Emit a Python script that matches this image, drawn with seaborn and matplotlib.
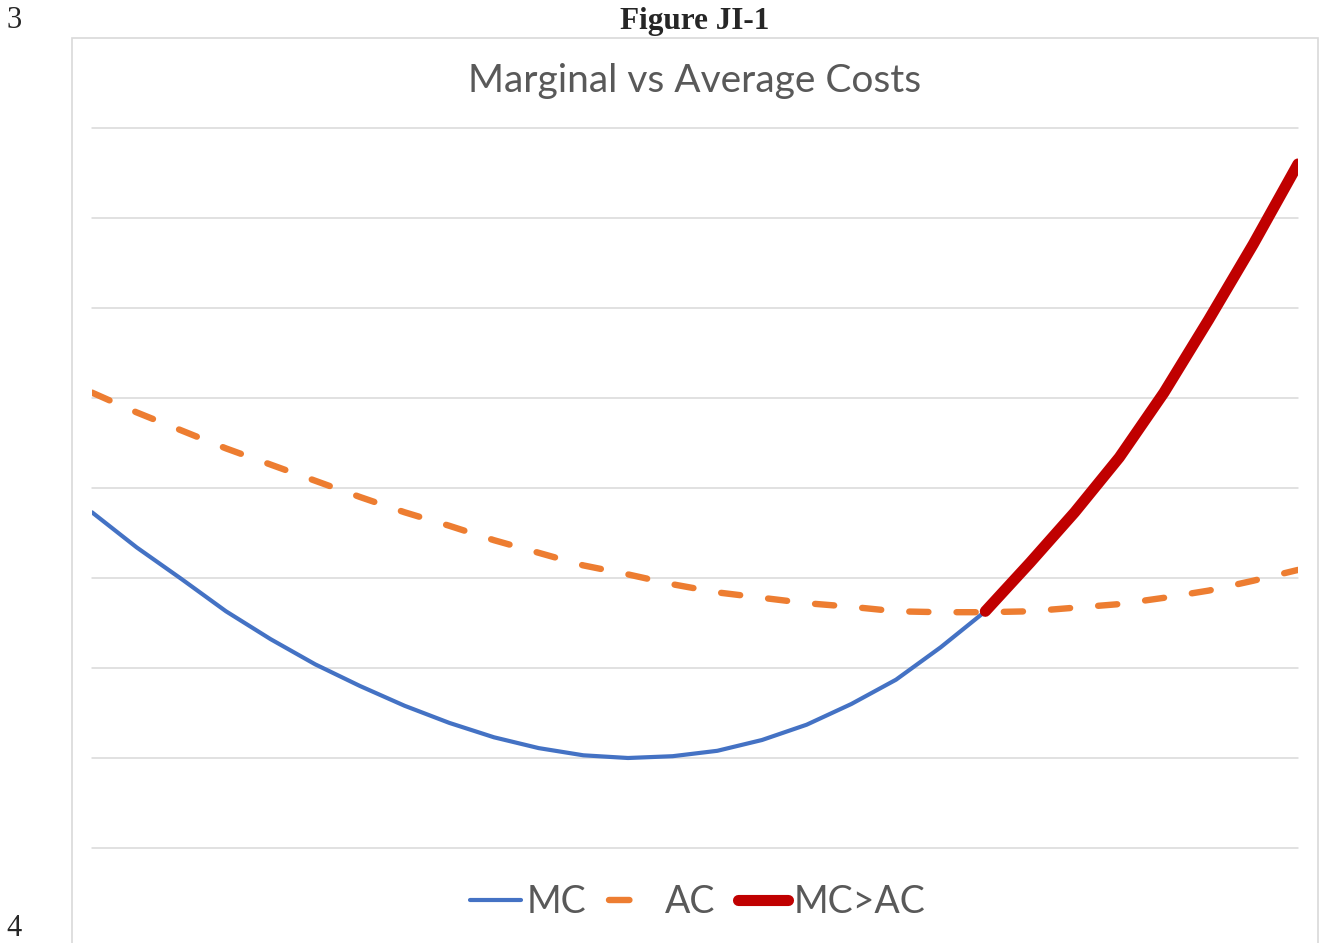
import pandas as pd
import matplotlib
matplotlib.use("Agg")
import matplotlib.pyplot as plt
import matplotlib.patches as patches
from matplotlib.lines import Line2D
import seaborn as sns

# quantity steps (x axis has no labels in the original)
quantity = list(range(28))
# marginal cost
mc = [3.73, 3.34, 2.99, 2.63, 2.32, 2.04, 1.80, 1.58, 1.39, 1.23,
      1.11, 1.03, 1.00, 1.02, 1.08, 1.20, 1.37, 1.60, 1.87, 2.23,
      2.63, 3.17, 3.73, 4.34, 5.06, 5.87, 6.71, 7.60]
# average cost
ac = [5.06, 4.84, 4.64, 4.44, 4.26, 4.08, 3.90, 3.73, 3.58, 3.42,
      3.28, 3.14, 3.04, 2.93, 2.84, 2.78, 2.72, 2.68, 2.63, 2.62,
      2.62, 2.63, 2.67, 2.71, 2.78, 2.86, 2.97, 3.09]
# MC>AC part starts where the curves cross
cross_idx = 20
series_names = ["MC", "AC", "MC>AC"]
gridlines = list(range(9))

df = pd.DataFrame({"q": quantity, "MC": mc, "AC": ac})
df_red = df[df["q"] >= cross_idx]

sns.set_style("white")
plt.rcParams["font.family"] = ["Lato", "DejaVu Sans"]

fig = plt.figure(figsize=(13.19, 9.43), dpi=100)
ax = fig.add_axes([92/1319, 95/943, 1206/1319, 720/943])

# chart frame
fig.patches.append(patches.Rectangle((72/1319, -0.01), 1246/1319, (943-38)/943 + 0.01,
                                     transform=fig.transFigure, fill=False,
                                     edgecolor="#d9d9d9", linewidth=1.2))

sns.lineplot(data=df, x="q", y="MC", ax=ax, color="#4472C4", linewidth=3.0, label="MC")
sns.lineplot(data=df, x="q", y="AC", ax=ax, color="#ED7D31", linewidth=4.6, label="AC")
ax.lines[-1].set_dashes((3.0, 4.4))
ax.lines[-1].set_dash_capstyle("round")
sns.lineplot(data=df_red, x="q", y="MC", ax=ax, color="#C00000", linewidth=8, label="MC>AC",
             solid_capstyle="round")

ax.set_xlim(0, 27)
ax.set_ylim(0, 8)
ax.set_yticks(gridlines)
ax.grid(axis="y", color="#d9d9d9", linewidth=1.1)
ax.grid(axis="x", visible=False)
for gl in ax.get_ygridlines():
    gl.set_clip_on(False)
ax.tick_params(length=0, labelleft=False, labelbottom=False)
ax.set_xlabel("")
ax.set_ylabel("")
sns.despine(ax=ax, left=True, bottom=True)

fig.text(695/1319, 1 - 81/943, "Marginal vs Average Costs", ha="center", va="center",
         fontsize=28, color="#595959")

handles = [Line2D([], [], color="#4472C4", linewidth=3.0),
           Line2D([], [], color="#ED7D31", linewidth=4.6, dashes=(3.2, 30), dash_capstyle="round"),
           Line2D([], [], color="#C00000", linewidth=8, solid_capstyle="round")]
ax.legend(handles, series_names, loc="center", bbox_to_anchor=(698/1319, 41/943),
          bbox_transform=fig.transFigure, ncol=3, frameon=False, fontsize=27,
          labelcolor="#595959", handlelength=1.35, handletextpad=0.15, columnspacing=0.6)

# document page text around the chart
fig.text(14/1319, 1 - 20/943, "3", ha="center", va="center", fontsize=22,
         family="Liberation Serif")
fig.text(695/1319, 1 - 21/943, "Figure JI-1", ha="center", va="center", fontsize=22.5,
         fontweight="bold", family="Liberation Serif")
fig.text(14/1319, 1 - 929/943, "4", ha="center", va="center", fontsize=22,
         family="Liberation Serif")

fig.savefig("out.png", dpi=100)
